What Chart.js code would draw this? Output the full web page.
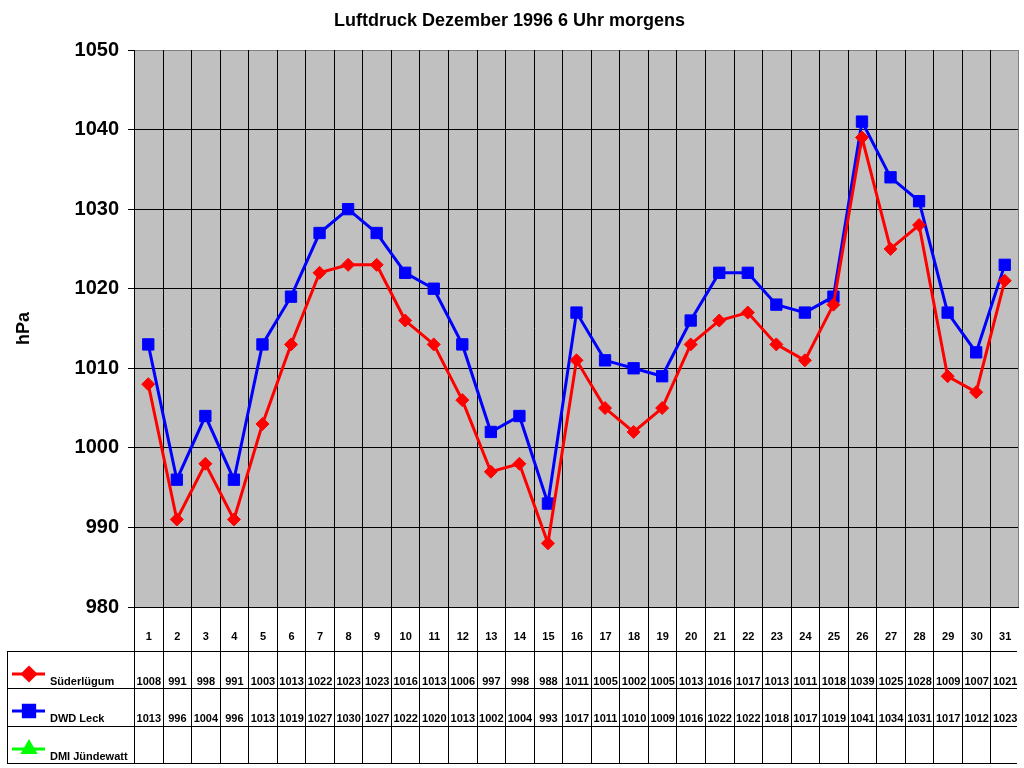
<!DOCTYPE html>
<html>
<head>
<meta charset="utf-8">
<script src="https://cdn.jsdelivr.net/npm/chart.js@4.4.1/dist/chart.umd.min.js"></script>
<style>
  html, body { margin: 0; padding: 0; background: #fff; }
  #wrap { width: 1024px; height: 768px; }
</style>
</head>
<body>
<div id="wrap"><canvas id="myChart" width="1024" height="768"></canvas></div>
<script>
"use strict";

// Tage im Dezember 1996
var days = ['1','2','3','4','5','6','7','8','9','10','11','12','13','14','15','16',
            '17','18','19','20','21','22','23','24','25','26','27','28','29','30','31'];

// Luftdruck 6 Uhr morgens (hPa)
var suederluegum = [1008, 991, 998, 991, 1003, 1013, 1022, 1023, 1023, 1016, 1013, 1006, 997, 998, 988, 1011,
                    1005, 1002, 1005, 1013, 1016, 1017, 1013, 1011, 1018, 1039, 1025, 1028, 1009, 1007, 1021];
var dwdLeck = [1013, 996, 1004, 996, 1013, 1019, 1027, 1030, 1027, 1022, 1020, 1013, 1002, 1004, 993, 1017,
               1011, 1010, 1009, 1016, 1022, 1022, 1018, 1017, 1019, 1041, 1034, 1031, 1017, 1012, 1023];
var dmiJuendewatt = [];

var seriesNames = ['Süderlügum', 'DWD Leck', 'DMI Jündewatt'];
var yMin = 980, yMax = 1050, yStep = 10;

var FONT = 'Arial, "Liberation Sans", sans-serif';

var plotDeco = {
    id: 'plotDeco',
    beforeDraw: function (chart) {
        var a = chart.chartArea, ctx = chart.ctx;
        ctx.save();
        ctx.fillStyle = '#C0C0C0';
        ctx.fillRect(a.left, a.top, a.right - a.left, a.bottom - a.top);
        ctx.restore();
    },
    beforeDatasetsDraw: function (chart) {
        var a = chart.chartArea, ctx = chart.ctx;
        var n = days.length, w = (a.right - a.left) / n;
        ctx.save();
        ctx.strokeStyle = '#000';
        ctx.lineWidth = 1;
        for (var i = 1; i < n; i++) {
            var x = Math.round(a.left + i * w) + 0.5;
            ctx.beginPath();
            ctx.moveTo(x, a.top);
            ctx.lineTo(x, a.bottom);
            ctx.stroke();
        }
        // right border (grey)
        ctx.strokeStyle = '#808080';
        ctx.beginPath();
        ctx.moveTo(Math.round(a.right) - 0.5, a.top);
        ctx.lineTo(Math.round(a.right) - 0.5, a.bottom);
        ctx.stroke();
        ctx.restore();
    },
    afterDraw: function (chart) {
        var a = chart.chartArea, ctx = chart.ctx;
        var n = days.length, w = (a.right - a.left) / n;
        var top = Math.round(a.bottom);
        var dayH = 44, rowH = 37.3;
        var rowsTop = top + dayH;
        var bottom = Math.round(rowsTop + 3 * rowH);
        var tableLeft = 7;

        ctx.save();
        ctx.strokeStyle = '#000';
        ctx.lineWidth = 1;

        // verticals
        for (var i = 0; i < n; i++) {
            var x = Math.round(a.left + i * w) + 0.5;
            ctx.beginPath();
            ctx.moveTo(x, top);
            ctx.lineTo(x, bottom);
            ctx.stroke();
        }
        ctx.beginPath();
        ctx.moveTo(tableLeft + 0.5, Math.round(rowsTop));
        ctx.lineTo(tableLeft + 0.5, bottom);
        ctx.stroke();

        // horizontals
        for (var r = 0; r <= 3; r++) {
            var y = Math.round(rowsTop + r * rowH) + 0.5;
            ctx.beginPath();
            ctx.moveTo(tableLeft, y);
            ctx.lineTo(a.right - 2, y);
            ctx.stroke();
        }

        // day numbers
        ctx.fillStyle = '#000';
        ctx.font = 'bold 11px ' + FONT;
        ctx.textAlign = 'center';
        ctx.textBaseline = 'alphabetic';
        var xs = chart.scales.x;
        days.forEach(function (d, i) {
            ctx.fillText(d, xs.getPixelForValue(i) + 0.5, top + 33);
        });

        // value rows + legend keys
        chart.data.datasets.forEach(function (ds, r) {
            var rt = rowsTop + r * rowH;
            ds.data.forEach(function (v, i) {
                if (v === null || v === undefined) return;
                ctx.fillText(String(v), xs.getPixelForValue(i) + 0.5, rt + 34);
            });
            var ky = Math.round(rt + 23);
            ctx.save();
            ctx.strokeStyle = ds.borderColor;
            ctx.lineWidth = 3;
            ctx.beginPath();
            ctx.moveTo(12, ky);
            ctx.lineTo(45, ky);
            ctx.stroke();
            ctx.fillStyle = ds.pointBackgroundColor;
            ctx.strokeStyle = ds.borderColor;
            Chart.helpers.drawPoint(ctx, {
                pointStyle: ds.pointStyle,
                radius: ds.pointRadius,
                borderWidth: 1,
                rotation: 0
            }, 29, ky);
            ctx.restore();
            ctx.textAlign = 'left';
            ctx.fillText(seriesNames[r], 50, rt + 34);
            ctx.textAlign = 'center';
        });
        ctx.restore();
    }
};

var $Chart = document.getElementById('myChart');

var pressureChart = new Chart($Chart, {
    type: 'line',
    data: {
        labels: days,
        datasets: [
            {
                label: seriesNames[0],
                data: suederluegum,
                borderColor: '#FF0000',
                backgroundColor: '#FF0000',
                pointBackgroundColor: '#FF0000',
                pointBorderColor: '#FF0000',
                pointStyle: 'rectRot',
                pointRadius: 6.5,
                pointBorderWidth: 1,
                borderWidth: 3,
                tension: 0
            },
            {
                label: seriesNames[1],
                data: dwdLeck,
                borderColor: '#0000FF',
                backgroundColor: '#0000FF',
                pointBackgroundColor: '#0000FF',
                pointBorderColor: '#0000FF',
                pointStyle: 'rect',
                pointRadius: 8,
                pointBorderWidth: 1,
                borderWidth: 3,
                tension: 0
            },
            {
                label: seriesNames[2],
                data: dmiJuendewatt,
                borderColor: '#00FF00',
                backgroundColor: '#00FF00',
                pointBackgroundColor: '#00FF00',
                pointBorderColor: '#00FF00',
                pointStyle: 'triangle',
                pointRadius: 7,
                pointBorderWidth: 1,
                borderWidth: 3,
                tension: 0
            }
        ]
    },
    options: {
        responsive: false,
        animation: false,
        layout: { autoPadding: false, padding: { left: 0, top: 0, right: 5, bottom: 161 } },
        plugins: {
            legend: { display: false },
            tooltip: { enabled: false },
            title: {
                display: true,
                text: 'Luftdruck Dezember 1996 6 Uhr morgens',
                color: '#000',
                font: { family: FONT, size: 18, weight: 'bold', lineHeight: 1.2 },
                padding: { top: 10, bottom: 18.4 }
            }
        },
        scales: {
            x: {
                display: false,
                offset: true
            },
            y: {
                min: yMin,
                max: yMax,
                afterFit: function (scale) { scale.width = 134; },
                ticks: {
                    stepSize: yStep,
                    color: '#000',
                    padding: 9,
                    font: { family: FONT, size: 20, weight: 'bold' },
                    callback: function (value) { return String(value); }
                },
                grid: {
                    color: function (ctx) {
                        return ctx.tick && ctx.tick.value === yMax ? '#808080' : '#000';
                    },
                    tickColor: '#000',
                    tickLength: 6,
                    lineWidth: 1
                },
                border: { color: '#000', width: 1 },
                title: {
                    display: true,
                    text: 'hPa',
                    color: '#000',
                    font: { family: FONT, size: 18, weight: 'bold' },
                    padding: { top: 13, bottom: 0 }
                }
            }
        }
    },
    plugins: [plotDeco]
});
</script>
</body>
</html>
